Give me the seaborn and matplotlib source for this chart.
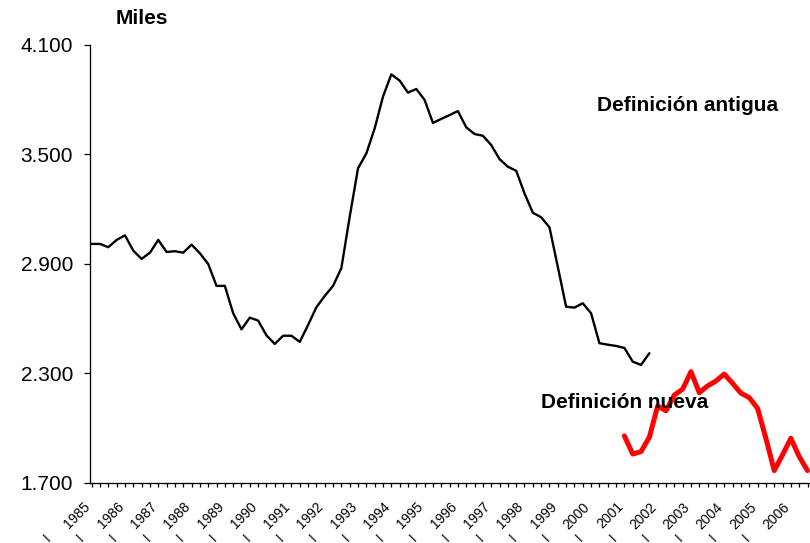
import matplotlib
matplotlib.use("Agg")
import pandas as pd
import matplotlib.pyplot as plt
import matplotlib.transforms as mtransforms
from matplotlib.ticker import FuncFormatter, MultipleLocator, NullFormatter
import seaborn as sns

# Serie trimestral, posicion 0 = 1985-I
anios = list(range(1985, 2007))
y_ticks = [1700, 2300, 2900, 3500, 4100]

# Definicion antigua: 1985-I a 2001-IV
antigua = [3010, 3010, 2992, 3032, 3057, 2973, 2928, 2962,
           3032, 2966, 2970, 2962, 3006, 2959, 2900, 2780,
           2780, 2630, 2542, 2606, 2590, 2509, 2462, 2507,
           2507, 2473, 2566, 2663, 2725, 2780, 2878, 3159,
           3424, 3506, 3643, 3817, 3939, 3905, 3839, 3859,
           3799, 3673, 3695, 3716, 3738, 3649, 3612, 3603,
           3552, 3475, 3433, 3411, 3287, 3181, 3156, 3101,
           2885, 2666, 2661, 2685, 2630, 2466, 2458, 2451,
           2440, 2365, 2347, 2411]

# Definicion nueva: 2001-I a 2006-III
nueva = [1958, 1859, 1872, 1951, 2122, 2096, 2182, 2214,
         2310, 2195, 2232, 2259, 2297, 2246, 2192, 2168,
         2109, 1945, 1768, 1854, 1945, 1845, 1768]
inicio_nueva = (2001 - 1985) * 4

df_ant = pd.DataFrame({"t": range(len(antigua)), "valor": antigua})
df_nue = pd.DataFrame({"t": range(inicio_nueva, inicio_nueva + len(nueva)), "valor": nueva})

sns.set_style("white")
plt.rcParams["font.family"] = ["Liberation Sans", "DejaVu Sans"]
plt.rcParams["text.color"] = "black"
plt.rcParams["xtick.color"] = "black"
plt.rcParams["ytick.color"] = "black"

fig = plt.figure(figsize=(8.1, 5.43), dpi=100)
ax = fig.add_axes([90 / 810, 60 / 543, 720 / 810, 438 / 543])

sns.lineplot(data=df_ant, x="t", y="valor", color="black", linewidth=1.7, ax=ax)
sns.lineplot(data=df_nue, x="t", y="valor", color="#ff0000", linewidth=3.6, ax=ax)

ax.set_xlim(-0.2, 86.3)
ax.set_ylim(1700, 4100)
ax.set_xlabel("")
ax.set_ylabel("")

for s in ["top", "right"]:
    ax.spines[s].set_visible(False)
for s in ["left", "bottom"]:
    ax.spines[s].set_color("black")
    ax.spines[s].set_linewidth(0.95)

# eje y
ax.set_yticks(y_ticks)
ax.yaxis.set_major_formatter(FuncFormatter(lambda v, p: f"{v:,.0f}".replace(",", ".")))
ax.tick_params(axis="y", left=True, direction="out", length=4.3, width=0.9,
               pad=8, labelsize=15, labelcolor="black")

# eje x: una marca por trimestre, etiqueta por anio
ax.set_xticks([4 * i for i in range(len(anios))])
ax.xaxis.set_major_formatter(NullFormatter())
ax.xaxis.set_minor_locator(MultipleLocator(1))
ax.tick_params(axis="x", which="both", bottom=True, direction="out",
               length=3, width=0.9)

base = mtransforms.blended_transform_factory(ax.transData, ax.transAxes)
trans_y = base + mtransforms.ScaledTranslation(-0.083, -0.168, fig.dpi_scale_trans)
trans_i = base + mtransforms.ScaledTranslation(-0.446, -0.55, fig.dpi_scale_trans)
for i, a in enumerate(anios):
    ax.text(4 * i, 0, str(a), transform=trans_y, rotation=45, ha="right",
            va="top", rotation_mode="anchor", fontsize=10, clip_on=False)
    # segunda linea de la etiqueta (trimestre I)
    ax.text(4 * i, 0, "I", transform=trans_i, rotation=45, ha="center",
            va="center", fontsize=10, clip_on=False)

fig.text(116 / 810, 1 - 19 / 543, "Miles", fontsize=15, fontweight="bold",
         ha="left", va="center")
fig.text(597 / 810, 1 - 106 / 543, "Definición antigua", fontsize=15,
         fontweight="bold", ha="left", va="center")
fig.text(541 / 810, 1 - 402 / 543, "Definición nueva", fontsize=15,
         fontweight="bold", ha="left", va="center")

fig.savefig("out.png", dpi=100)
